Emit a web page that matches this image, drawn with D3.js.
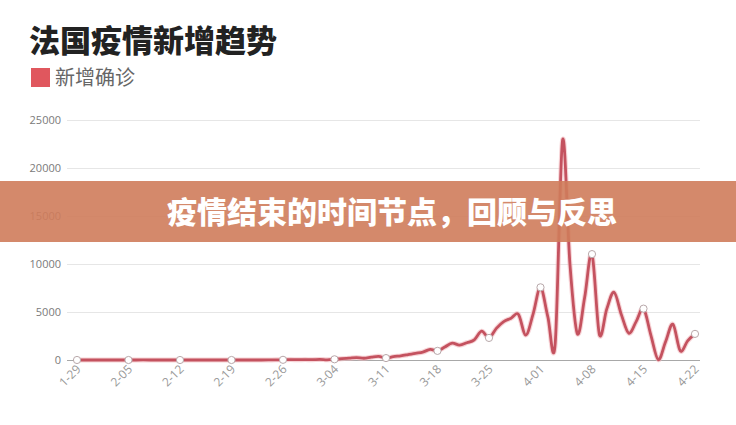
<!DOCTYPE html>
<html>
<head>
<meta charset="utf-8">
<script src="https://cdn.jsdelivr.net/npm/d3@7/dist/d3.min.js"></script>
<style>
  html, body { margin: 0; padding: 0; background: #fff; }
  svg { display: block; }
</style>
</head>
<body>
<svg id="chart" width="736" height="425"></svg>
<script>
const title = "法国疫情新增趋势";
const seriesName = "新增确诊";
const bannerText = "疫情结束的时间节点，回顾与反思";

const dates = [
  "1-29","1-30","1-31",
  "2-01","2-02","2-03","2-04","2-05","2-06","2-07","2-08","2-09","2-10",
  "2-11","2-12","2-13","2-14","2-15","2-16","2-17","2-18","2-19","2-20",
  "2-21","2-22","2-23","2-24","2-25","2-26","2-27","2-28","2-29",
  "3-01","3-02","3-03","3-04","3-05","3-06","3-07","3-08","3-09","3-10",
  "3-11","3-12","3-13","3-14","3-15","3-16","3-17","3-18","3-19","3-20",
  "3-21","3-22","3-23","3-24","3-25","3-26","3-27","3-28","3-29","3-30","3-31",
  "4-01","4-02","4-03","4-04","4-05","4-06","4-07","4-08","4-09","4-10",
  "4-11","4-12","4-13","4-14","4-15","4-16","4-17","4-18","4-19","4-20",
  "4-21","4-22"
];

const newConfirmed = [
  1, 0, 1,
  0, 0, 0, 0, 0, 0, 5, 0, 1, 0,
  0, 0, 0, 1, 0, 0, 0, 0, 0, 0,
  0, 0, 2, 4, 20, 19, 43, 30, 43,
  30, 61, 21, 73, 138, 190, 250, 180, 290, 380,
  200, 350, 430, 560, 700, 820, 1100, 950, 1350, 1750,
  1550, 1800, 2100, 3000, 2300, 3300, 4000, 4350, 4750, 2600, 4800,
  7570, 4500, 1740, 22900, 10000, 2750, 6500, 11030, 2680, 5300,
  7050, 4700, 2780, 4000, 5350, 2600, 30, 1900, 3720, 950,
  2000, 2720
];

const xTickLabels = ["1-29","2-05","2-12","2-19","2-26","3-04","3-11","3-18","3-25","4-01","4-08","4-15","4-22"];
const yTicks = [0, 5000, 10000, 15000, 20000, 25000];

const svg = d3.select("#chart");
const cjk = "'Noto Sans CJK SC', 'Noto Sans', sans-serif";
const latin = "'Open Sans', 'DejaVu Sans', sans-serif";

const x = d3.scalePoint().domain(dates).range([77, 695]);
const y = d3.scaleLinear().domain([0, 25000]).range([360, 120]);

// Title
svg.append("text")
  .attr("x", 29).attr("y", 52)
  .attr("font-family", cjk).attr("font-weight", 900)
  .attr("font-size", 31).attr("fill", "#222")
  .text(title);

// Legend
svg.append("rect")
  .attr("x", 31).attr("y", 68).attr("width", 19).attr("height", 19)
  .attr("fill", "#e0575e");
svg.append("text")
  .attr("x", 55).attr("y", 85)
  .attr("font-family", cjk).attr("font-size", 20).attr("fill", "#666")
  .text(seriesName);

// Y axis (grid + labels)
const yAxis = d3.axisLeft(y).tickValues(yTicks).tickFormat(d3.format("d"))
  .tickSize(-633).tickPadding(6);
const gy = svg.append("g").attr("transform", "translate(67,0)").call(yAxis);
gy.select(".domain").remove();
gy.selectAll(".tick line").attr("stroke", "#e6e6e6").attr("stroke-width", 1);
gy.selectAll(".tick text")
  .attr("font-family", latin)
  .attr("font-size", 11).attr("fill", "#7a7a7a");

// X axis
const xAxis = d3.axisBottom(x).tickValues(xTickLabels).tickSize(0).tickPadding(0);
const gx = svg.append("g").attr("transform", "translate(0,360)").call(xAxis);
gx.select(".domain").attr("d", "M67,0.5H700").attr("stroke", "#a8a8a8");
gx.selectAll(".tick text")
  .attr("font-family", latin)
  .attr("font-size", 12).attr("fill", "#999")
  .attr("text-anchor", "end")
  .attr("dy", null).attr("y", 0)
  .attr("transform", "translate(4,10) rotate(-45)");

// Line
const line = d3.line()
  .x((d, i) => x(dates[i]))
  .y(d => y(d))
  .curve(d3.curveCardinal.tension(0));

svg.append("path")
  .datum(newConfirmed)
  .attr("d", line)
  .attr("fill", "none")
  .attr("stroke", "#f2b8bd")
  .attr("stroke-width", 5)
  .attr("stroke-opacity", 0.6);
svg.append("path")
  .datum(newConfirmed)
  .attr("d", line)
  .attr("fill", "none")
  .attr("stroke", "#c4525f")
  .attr("stroke-width", 2.8)
  .attr("stroke-linejoin", "round");

// Markers at labelled dates
svg.append("g").selectAll("circle")
  .data(xTickLabels)
  .join("circle")
  .attr("cx", d => x(d))
  .attr("cy", d => y(newConfirmed[dates.indexOf(d)]))
  .attr("r", 3.6)
  .attr("fill", "#fff")
  .attr("stroke", "#b8a8aa")
  .attr("stroke-width", 1);

// Banner overlay
svg.append("rect")
  .attr("x", 0).attr("y", 181).attr("width", 736).attr("height", 61)
  .attr("fill", "#cf7c5b").attr("fill-opacity", 0.9);
svg.append("text")
  .attr("x", 167).attr("y", 223)
  .attr("font-family", cjk).attr("font-weight", 900)
  .attr("font-size", 30).attr("fill", "#ffffff")
  .text(bannerText);
</script>
</body>
</html>
